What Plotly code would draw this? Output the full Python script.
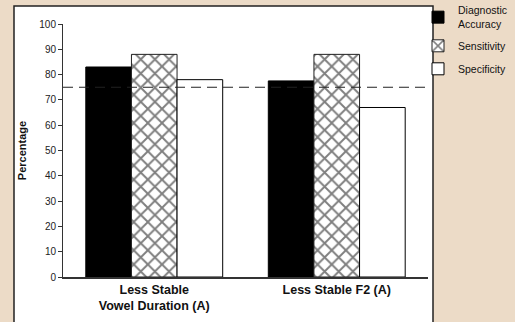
import plotly.graph_objects as go

categories = ["Less Stable<br>Vowel Duration (A)", "Less Stable F2 (A)"]
diagnostic_accuracy = [83, 77.5]
sensitivity = [88, 88]
specificity = [78, 67]
threshold = 75
series_names = ["Diagnostic<br>Accuracy", "Sensitivity", "Specificity"]

W, H = 515, 322
L, R, T, B = 63, 87, 24, 45
pw, ph = W - L - R, H - T - B

def px_x(p):
    return (p - L) / pw

def px_y(p):
    return (H - B - p) / ph

fig = go.Figure()
fig.add_trace(go.Bar(x=categories, y=diagnostic_accuracy, name=series_names[0], legendgroup="a",
                     marker=dict(color="black", line=dict(color="black", width=1))))
fig.add_trace(go.Bar(x=categories, y=sensitivity, name=series_names[1], legendgroup="b",
                     marker=dict(color="white", line=dict(color="#222", width=1),
                                 pattern=dict(shape="x", fgcolor="black", bgcolor="white",
                                              size=10, solidity=0.35))))
fig.add_trace(go.Bar(x=categories, y=specificity, name=series_names[2], legendgroup="c",
                     marker=dict(color="white", line=dict(color="black", width=1))))

# white panel
fig.add_shape(type="rect", xref="paper", yref="paper",
              x0=px_x(14), x1=px_x(433), y0=px_y(330), y1=px_y(6),
              fillcolor="white", line=dict(color="#222", width=1.5), layer="below")
# threshold line
fig.add_shape(type="line", xref="paper", yref="y", x0=0, x1=px_x(426),
              y0=threshold, y1=threshold,
              line=dict(color="#222", width=1, dash="10px,6px"))

fig.update_layout(
    width=W, height=H,
    margin=dict(l=L, r=R, t=T, b=B, autoexpand=False),
    paper_bgcolor="#ecdbc7",
    plot_bgcolor="white",
    barmode="group",
    bargap=0.25,
    bargroupgap=0,
    font=dict(family="Liberation Sans, Arial, sans-serif", color="#111"),
    showlegend=True,
    legend=dict(x=px_x(418), y=px_y(-3), xanchor="left", yanchor="top",
                bgcolor="rgba(0,0,0,0)", font=dict(size=10.5),
                itemwidth=30, tracegroupgap=4, traceorder="grouped"),
    xaxis=dict(showline=True, linecolor="#333", linewidth=1.5,
               tickfont=dict(size=12.5, color="#111"),
               ticks="", showgrid=False, range=[-0.5, 1.5]),
    yaxis=dict(range=[0, 100], dtick=10, showline=True, linecolor="#333", linewidth=1,
               ticks="outside", ticklen=4, tickcolor="#333",
               tickfont=dict(size=10, color="#222"), showgrid=False, zeroline=False,
               title=dict(text="<b>Percentage</b>", font=dict(size=11), standoff=10)),
)
fig.update_xaxes(tickprefix="<b>", ticksuffix="</b>")

fig.write_html("out.html", config={"displayModeBar": False},
               post_script="document.body.style.margin='0px';")
